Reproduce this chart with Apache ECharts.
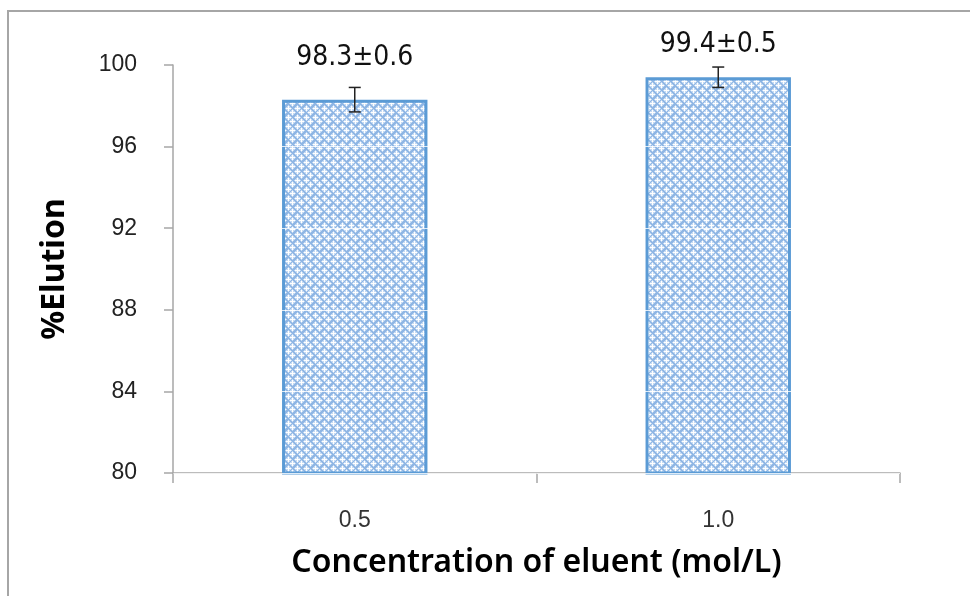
<!DOCTYPE html>
<html>
<head>
<meta charset="utf-8">
<script src="https://cdn.jsdelivr.net/npm/echarts@6/dist/echarts.min.js"></script>
<style>
  html, body { margin: 0; padding: 0; background: #fff; }
  #chart { width: 970px; height: 596px; }
</style>
</head>
<body>
<div id="chart"></div>
<script>
// Elution efficiency versus eluent concentration
const categories = ['0.5', '1.0'];
const elution = [98.3, 99.4];
const elutionSD = [0.6, 0.5];
const yTicks = { min: 80, max: 100, step: 4 };

// Vertical gap (px) between each error-bar cap and its value label
const labelLift = [30, 22];

// Small cross-hatch tile used to fill the bars
function hatchTile() {
  const n = 9, h = 4.5;
  const c = document.createElement('canvas');
  c.width = n; c.height = n;
  const g = c.getContext('2d');
  g.fillStyle = '#8fb6e4';
  g.fillRect(0, 0, n, n);
  const centres = [[0, 0], [Math.floor(h), Math.floor(h)]];
  g.fillStyle = '#c4daf3';
  centres.forEach(([cx, cy]) => {
    for (let dx = -3; dx <= 3; dx++) for (let dy = -3; dy <= 3; dy++) {
      if (Math.abs(dx) + Math.abs(dy) <= 3) {
        g.fillRect((cx + dx + n) % n, (cy + dy + n) % n, 1, 1);
      }
    }
  });
  g.fillStyle = '#ffffff';
  centres.forEach(([cx, cy]) => {
    [[0, 0], [1, 0], [-1, 0], [0, 1], [0, -1], [2, 0], [-2, 0], [0, 2], [0, -2]].forEach(([dx, dy]) => {
      g.fillRect((cx + dx + n) % n, (cy + dy + n) % n, 1, 1);
    });
  });
  return c;
}

const chart = echarts.init(document.getElementById('chart'), null, { renderer: 'canvas' });

const errData = categories.map((c, i) => [i, elution[i], elutionSD[i]]);

chart.setOption({
  animation: false,
  backgroundColor: '#ffffff',
  graphic: [{
    type: 'rect',
    shape: { x: 8, y: 11, width: 1000, height: 700 },
    style: { fill: 'none', stroke: '#a6a6a6', lineWidth: 2 },
    z: -1, silent: true
  }],
  grid: { left: 173, right: 70, top: 65, bottom: 123 },
  xAxis: {
    type: 'category',
    data: categories,
    name: 'Concentration of eluent (mol/L)',
    nameLocation: 'middle',
    nameGap: 74,
    nameTextStyle: { fontFamily: 'Noto Sans', fontWeight: 600, fontSize: 32, color: '#000' },
    axisLine: { lineStyle: { color: '#a6a6a6', width: 1.5 } },
    axisTick: { show: true, length: 10, lineStyle: { color: '#a6a6a6', width: 1.5 } },
    axisLabel: { margin: 36, fontFamily: 'Liberation Sans', fontSize: 23, color: '#333' }
  },
  yAxis: {
    type: 'value',
    min: yTicks.min, max: yTicks.max, interval: yTicks.step,
    z: 3,
    name: '%Elution',
    nameLocation: 'middle',
    nameGap: 102,
    nameTextStyle: { fontFamily: 'Noto Sans', fontWeight: 700, fontSize: 32, color: '#000' },
    axisLine: { show: true, lineStyle: { color: '#a6a6a6', width: 1.5 } },
    axisTick: { show: true, length: 9, lineStyle: { color: '#a6a6a6', width: 1.5 } },
    axisLabel: { margin: 36, fontFamily: 'Liberation Sans', fontSize: 23, color: '#222' },
    splitLine: { show: true, lineStyle: { color: 'rgba(255,255,255,0.8)', width: 1 } }
  },
  series: [
    {
      type: 'bar',
      data: elution,
      barWidth: '40%',
      itemStyle: {
        color: { image: hatchTile(), repeat: 'repeat' },
        borderColor: '#5b9bd5',
        borderWidth: 3
      },
      z: 2
    },
    {
      type: 'custom',
      data: errData,
      z: 4,
      renderItem: function (params, api) {
        const i = api.value(0);
        const mean = api.value(1);
        const sd = api.value(2);
        const hi = api.coord([i, mean + sd]);
        const lo = api.coord([i, mean - sd]);
        const cap = 6;
        const ls = { stroke: '#222', lineWidth: 1.5 };
        return {
          type: 'group',
          children: [
            { type: 'line', shape: { x1: hi[0], y1: hi[1], x2: lo[0], y2: lo[1] }, style: ls },
            { type: 'line', shape: { x1: hi[0] - cap, y1: hi[1], x2: hi[0] + cap, y2: hi[1] }, style: ls },
            { type: 'line', shape: { x1: lo[0] - cap, y1: lo[1], x2: lo[0] + cap, y2: lo[1] }, style: ls },
            {
              type: 'text',
              style: {
                x: hi[0], y: hi[1] - labelLift[params.dataIndex],
                text: mean.toFixed(1) + '±' + sd.toFixed(1),
                fontFamily: 'Liberation Sans Narrow, DejaVu Sans Condensed, sans-serif',
                fontSize: 28,
                fill: '#111',
                align: 'center',
                verticalAlign: 'middle'
              }
            }
          ]
        };
      }
    }
  ]
});
</script>
</body>
</html>
